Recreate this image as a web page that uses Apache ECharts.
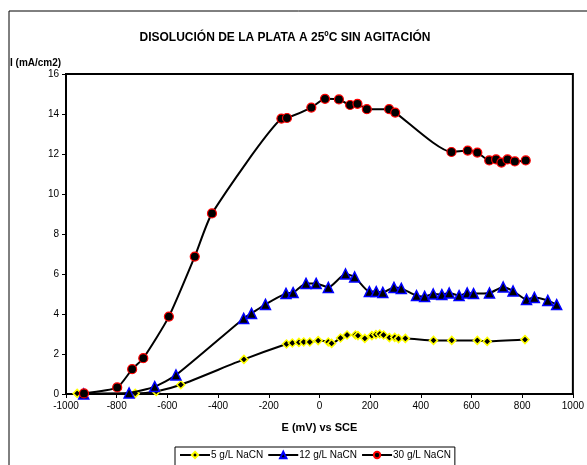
<!DOCTYPE html>
<html>
<head>
<meta charset="utf-8">
<script src="https://cdn.jsdelivr.net/npm/echarts@6/dist/echarts.min.js"></script>
<style>
  html, body { margin: 0; padding: 0; background: #fff; }
  #chart { width: 587px; height: 465px; }
</style>
</head>
<body>
<div id="chart"></div>
<script>
// 5 g/L NaCN
var e5 = [-956, -727, -644, -547, -298, -130, -107, -81, -62, -38, -5, 35, 48, 83, 109, 142, 152, 179, 207, 223, 238, 253, 276, 297, 312, 339, 450, 522, 623, 662, 811];
var i5 = [0.03, 0.03, 0.13, 0.46, 1.73, 2.5, 2.55, 2.58, 2.6, 2.6, 2.67, 2.6, 2.53, 2.8, 2.95, 2.95, 2.92, 2.78, 2.92, 2.97, 3.0, 2.95, 2.82, 2.83, 2.77, 2.78, 2.68, 2.68, 2.68, 2.63, 2.72];
// 12 g/L NaCN
var e12 = [-930, -751, -650, -566, -299, -268, -213, -132, -104, -53, -13, 35, 103, 139, 197, 224, 250, 294, 323, 383, 415, 449, 483, 512, 551, 583, 608, 671, 725, 764, 817, 848, 901, 936];
var i12 = [0.0, 0.05, 0.37, 0.95, 3.78, 4.03, 4.48, 5.03, 5.07, 5.53, 5.53, 5.33, 6.0, 5.85, 5.12, 5.12, 5.08, 5.33, 5.28, 4.92, 4.88, 5.0, 4.97, 5.05, 4.92, 5.05, 5.02, 5.05, 5.35, 5.15, 4.73, 4.83, 4.68, 4.47];
// 30 g/L NaCN
var e30 = [-929, -798, -739, -695, -594, -492, -424, -150, -128, -32, 22, 77, 121, 150, 187, 275, 299, 521, 585, 623, 670, 697, 718, 742, 771, 814];
var i30 = [0.03, 0.33, 1.24, 1.79, 3.87, 6.87, 9.03, 13.77, 13.8, 14.32, 14.76, 14.73, 14.45, 14.51, 14.24, 14.24, 14.07, 12.1, 12.17, 12.07, 11.68, 11.73, 11.57, 11.73, 11.63, 11.68];

var seriesNames = ["5 g/L NaCN", "12 g/L NaCN", "30 g/L NaCN"];

function pairs(xs, ys) {
  var out = [];
  for (var k = 0; k < xs.length; k++) out.push([xs[k], ys[k]]);
  return out;
}

var font = "Arial, 'Liberation Sans', sans-serif";
var chart = echarts.init(document.getElementById("chart"), null, { renderer: "canvas" });

var option = {
  backgroundColor: "#fff",
  animation: false,
  textStyle: { fontFamily: font, color: "#000" },
  title: {
    text: "DISOLUCIÓN DE LA PLATA A 25ºC SIN AGITACIÓN",
    left: 280,
    textAlign: "center",
    top: 27,
    textStyle: { fontSize: 12, fontWeight: "bold", color: "#000", fontFamily: font }
  },
  graphic: [
    {
      type: "rect",
      shape: { x: 9, y: 11, width: 600, height: 480 },
      style: { fill: null, stroke: "#000", lineWidth: 1 },
      silent: true
    },
    {
      type: "text",
      left: 10,
      top: 58,
      style: { text: "I (mA/cm2)", font: "bold 10px " + font, fill: "#000" }
    }
  ],
  grid: {
    left: 66,
    top: 74,
    width: 509,
    height: 320,
    show: true,
    borderColor: "#000",
    borderWidth: 2,
    backgroundColor: "#fff"
  },
  xAxis: {
    type: "value",
    min: -1000,
    max: 1000,
    interval: 200,
    name: "E (mV) vs SCE",
    nameLocation: "middle",
    nameGap: 28,
    nameTextStyle: { fontSize: 11, fontWeight: "bold", color: "#000" },
    axisLine: { onZero: false, lineStyle: { color: "#000", width: 2 } },
    axisTick: { length: 4, lineStyle: { color: "#000" } },
    axisLabel: { fontSize: 10, color: "#000", margin: 7, formatter: function (v) { return String(v); } },
    splitLine: { show: false }
  },
  yAxis: {
    type: "value",
    min: 0,
    max: 16,
    interval: 2,
    axisLine: { show: true, onZero: false, lineStyle: { color: "#000", width: 2 } },
    axisTick: { show: true, length: 4, lineStyle: { color: "#000" } },
    axisLabel: { fontSize: 10, color: "#000", margin: 7 },
    splitLine: { show: false }
  },
  legend: {
    data: seriesNames,
    left: 175,
    top: 447,
    width: 287,
    itemWidth: 30,
    itemHeight: 8,
    itemGap: 4,
    padding: [3, 4, 6, 4],
    borderColor: "#000",
    borderWidth: 1,
    textStyle: { fontSize: 10, color: "#000", padding: [0, 0, 0, -4] }
  },
  series: [
    {
      name: seriesNames[0],
      type: "line",
      data: pairs(e5, i5),
      smooth: 0.2,
      symbol: "diamond",
      symbolSize: 8,
      lineStyle: { color: "#000", width: 2 },
      itemStyle: { color: "#000", borderColor: "#ffff00", borderWidth: 1.5 },
      z: 3
    },
    {
      name: seriesNames[1],
      type: "line",
      data: pairs(e12, i12),
      smooth: 0.2,
      symbol: "triangle",
      symbolSize: 10,
      lineStyle: { color: "#000", width: 2 },
      itemStyle: { color: "#000", borderColor: "#0000ff", borderWidth: 1.5 },
      z: 4
    },
    {
      name: seriesNames[2],
      type: "line",
      data: pairs(e30, i30),
      smooth: 0.2,
      symbol: "circle",
      symbolSize: 9,
      lineStyle: { color: "#000", width: 2 },
      itemStyle: { color: "#000", borderColor: "#ff0000", borderWidth: 1.2 },
      z: 5
    }
  ]
};

chart.setOption(option);
</script>
</body>
</html>
